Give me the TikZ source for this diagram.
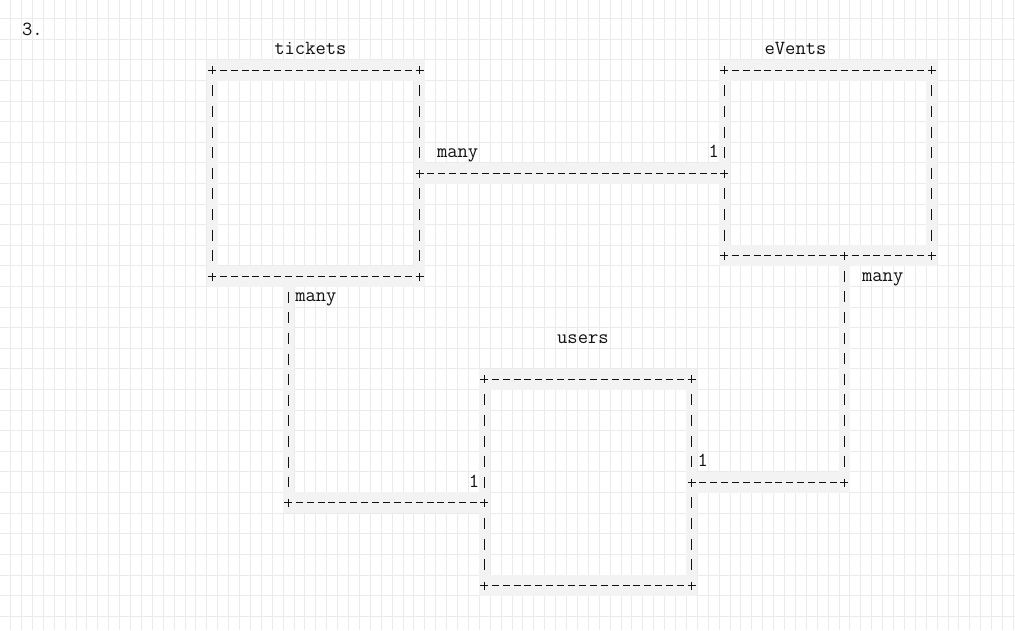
\documentclass[tikz,border=0pt]{standalone}
\usepackage{fontspec}
\usetikzlibrary{calc}
\definecolor{gridc}{HTML}{EBEBEB}
\definecolor{stripc}{HTML}{F3F3F3}
\definecolor{inkc}{HTML}{111111}
\pgfdeclarelayer{bg}
\pgfdeclarelayer{strips}
\pgfsetlayers{bg,strips,main}
\tikzset{
  hdash/.style={draw=inkc, line width=1.15pt, dash pattern=on 7pt off 3.9pt, shorten <=7.4pt, shorten >=7.4pt},
  vdash/.style={draw=inkc, line width=1.15pt, dash pattern=on 11pt off 9.6pt, shorten <=15.1pt, shorten >=15.1pt},
  plusmark/.style={draw=inkc, line width=1.15pt},
  tbox/.style={draw=none, inner sep=0pt, minimum width=207pt},
  lbl/.style={anchor=base, inner sep=0pt, text=inkc, font=\fontsize{20}{24}\selectfont\ttfamily},
}
\newcommand\hseg[2]{%
  \begin{pgfonlayer}{strips}\fill[stripc] ($(#1)+(-5.6,-10.4)$) rectangle ($(#2)+(5.6,10.4)$);\end{pgfonlayer}
  \draw[hdash] (#1) -- (#2);}
\newcommand\vseg[2]{%
  \begin{pgfonlayer}{strips}\fill[stripc] ($(#1)+(-5.6,-10.4)$) rectangle ($(#2)+(5.6,10.4)$);\end{pgfonlayer}
  \draw[vdash] (#1) -- (#2);}
\newcommand\plusat[1]{%
  \fill[stripc] ($(#1)+(-5.4,-10.2)$) rectangle ($(#1)+(5.4,10.2)$);
  \draw[plusmark] ($(#1)+(-4,0)$) -- ($(#1)+(4,0)$) ($(#1)+(0,-4)$) -- ($(#1)+(0,4)$);}
\newcommand\asciibox[1]{%
  \hseg{#1.north west}{#1.north east}
  \hseg{#1.south west}{#1.south east}
  \vseg{#1.north west}{#1.south west}
  \vseg{#1.north east}{#1.south east}
  \plusat{#1.north west}\plusat{#1.north east}\plusat{#1.south west}\plusat{#1.south east}}
\begin{document}
\begin{tikzpicture}[x=1pt,y=-1pt]
\useasboundingbox (0,0) rectangle (1015,630);
\begin{pgfonlayer}{bg}
\fill[white] (0,0) rectangle (1015,630);
\foreach \k in {-18,...,74} \draw[gridc, line width=1pt] ({206.85+10.9*\k},0) -- ++(0,630);
\foreach \k in {-2,...,27} \draw[gridc, line width=1pt] (0,{59.99+20.6*\k}) -- ++(1015,0);
\end{pgfonlayer}
% boxes
\node[tbox, minimum height=206pt] (tickets) at (316,173.5) {};
\node[tbox, minimum height=185pt] (events) at (828,163) {};
\node[tbox, minimum height=206pt] (users) at (588,482.5) {};
\asciibox{tickets}
\asciibox{events}
\asciibox{users}
% connector points
\coordinate (et) at (events.west |- tickets.east);
\coordinate (tu) at ($(tickets.south west)+(76,0)$);
\coordinate (ut) at ($(users.west)+(0,20)$);
\coordinate (tuc) at (tu |- ut);
\coordinate (eu) at ($(events.south west)+(120,0)$);
\coordinate (euc) at (eu |- users.east);
% tickets -- events
\hseg{tickets.east}{et}
% tickets -- users
\vseg{tu}{tuc}
\hseg{tuc}{ut}
% events -- users
\vseg{eu}{euc}
\hseg{euc}{users.east}
% junction marks
\plusat{tickets.east}\plusat{et}
\plusat{tuc}\plusat{ut}
\plusat{eu}\plusat{euc}\plusat{users.east}
% texts
\node[lbl] (num) at (32.5,35.6) {3.};
\node[lbl] (ttickets) at (310.4,54.6) {tickets};
\node[lbl] (tevents) at (795.5,54.6) {eVents};
\node[lbl] (tusers) at (582.9,343) {users};
\node[lbl] (m1) at (457.6,157.4) {many};
\node[lbl] (o1) at (713.7,157.4) {1};
\node[lbl] (m2) at (315.9,301.6) {many};
\node[lbl] (o2) at (473.9,487) {1};
\node[lbl] (o3) at (702.8,466.4) {1};
\node[lbl] (m3) at (882.7,281) {many};
\end{tikzpicture}
\end{document}
